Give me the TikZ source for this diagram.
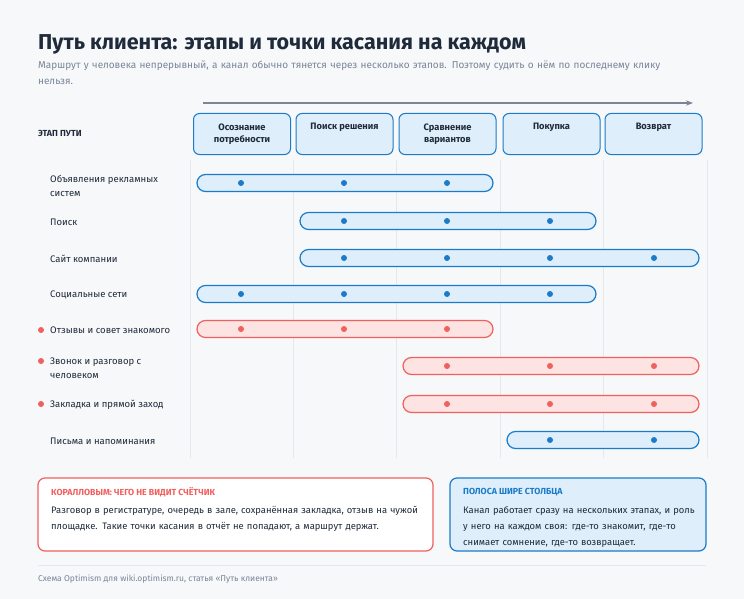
\documentclass[tikz,border=0pt]{standalone}
\usepackage{fontspec}
\setmainfont{Fira Sans}
\usepackage{xcolor}
\usetikzlibrary{arrows.meta,positioning,shapes.misc,calc}
\definecolor{bgc}{HTML}{F6F8FA}
\definecolor{ink}{HTML}{1F2A3A}
\definecolor{greyt}{HTML}{7A8596}
\definecolor{blue1}{HTML}{1B7BC8}
\definecolor{blue2}{HTML}{DEEEFB}
\definecolor{coral1}{HTML}{F0605D}
\definecolor{coral2}{HTML}{FDE3E2}
\definecolor{gridc}{HTML}{E4E8ED}
\tikzset{
  stage/.style = {draw=blue1, fill=blue2, rounded corners=6pt, line width=1pt, minimum width=97pt, minimum height=41pt, align=center, font=\fontsize{9.3}{12.5}\selectfont\bfseries, text=ink},
  bar/.style = {rounded rectangle, draw=blue1, fill=blue2, line width=1.2pt, minimum height=17pt, inner sep=0pt},
  rbar/.style = {bar, draw=coral1, fill=coral2},
  dot/.style = {circle, fill=blue1, inner sep=0pt, minimum size=6pt},
  rdot/.style = {dot, fill=coral1},
  lab/.style = {anchor=west, inner sep=0pt, align=left, font=\fontsize{9.5}{14}\selectfont, text=ink}
}
\begin{document}
\begin{tikzpicture}[x=1pt, y=-1pt]
\fill[bgc] (0,0) rectangle (744,599);
\useasboundingbox (0,0) rectangle (744,599);
\node[anchor=west, inner sep=0pt, font=\fontsize{21.5}{24}\selectfont\bfseries, text=ink] (title) at (38,44) {Путь клиента: этапы и точки касания на каждом};
\node[anchor=north west, inner sep=0pt, align=left, text width=660pt, font=\fontsize{10}{16}\selectfont, text=greyt] (sub) at (38,61) {Маршрут у человека непрерывный, а канал обычно тянется через несколько этапов. Поэтому судить о нём по последнему клику нельзя.};
% stage axis
\coordinate (ax0) at (203,103);
\coordinate (ax1) at (693,103);
\draw[greyt, line width=1.2pt, -{Stealth[length=7pt]}] (ax0) -- (ax1);
\node[anchor=west, inner sep=0pt, font=\fontsize{8.8}{10}\selectfont\bfseries, text=ink] (head) at (38,133) {ЭТАП ПУТИ};
\node[stage] (s1) at (242,134) {Осознание\\потребности};
\node[stage] (s2) at (344.5,134) {Поиск решения\\\strut};
\node[stage] (s3) at (447.5,134) {Сравнение\\вариантов};
\node[stage] (s4) at (551.5,134) {Покупка\\\strut};
\node[stage] (s5) at (653.5,134) {Возврат\\\strut};
% column guides
\foreach \gx in {190,293,396,500,603,707}
  \draw[gridc, line width=0.8pt] (\gx,160) -- (\gx,458);
% channels
\node[lab] (l1) at (50,186) {Объявления рекламных\\систем};
\node[lab] (l2) at (50,222) {Поиск};
\node[lab] (l3) at (50,259) {Сайт компании};
\node[lab] (l4) at (50,295) {Социальные сети};
\node[lab] (l5) at (50,330) {Отзывы и совет знакомого};
\node[lab] (l6) at (50,368) {Звонок и разговор с\\человеком};
\node[lab] (l7) at (50,405) {Закладка и прямой заход};
\node[lab] (l8) at (50,441) {Письма и напоминания};
\node[rdot] (m5) at (41,330) {};
\node[rdot] (m6) at (41,361) {};
\node[rdot] (m7) at (41,404) {};
% bars
\node[bar, minimum width=296pt] (b1) at (345,183) {};
\node[bar, minimum width=296pt] (b2) at (448,221) {};
\node[bar, minimum width=399pt] (b3) at (499.5,258) {};
\node[bar, minimum width=399pt] (b4) at (396.5,294) {};
\node[rbar, minimum width=296pt] (b5) at (345,329) {};
\node[rbar, minimum width=296pt] (b6) at (551,366) {};
\node[rbar, minimum width=296pt] (b7) at (551,404) {};
\node[bar, minimum width=192pt] (b8) at (603,440) {};
\foreach \px in {241,344,447} \node[dot] at (\px,183) {};
\foreach \px in {344,447,550} \node[dot] at (\px,221) {};
\foreach \px in {344,447,550,654} \node[dot] at (\px,258) {};
\foreach \px in {241,344,447,550} \node[dot] at (\px,294) {};
\foreach \px in {241,344,447} \node[rdot] at (\px,329) {};
\foreach \px in {447,550,654} \node[rdot] at (\px,366) {};
\foreach \px in {447,550,654} \node[rdot] at (\px,404) {};
\foreach \px in {550,654} \node[dot] at (\px,440) {};
% notes
\draw[coral1, fill=white, line width=1.2pt, rounded corners=7pt] (38,478) rectangle (433,551);
\node[anchor=west, inner sep=0pt, font=\fontsize{8.8}{10}\selectfont\bfseries, text=coral1] (n1h) at (51,492) {КОРАЛЛОВЫМ: ЧЕГО НЕ ВИДИТ СЧЁТЧИК};
\node[anchor=north west, inner sep=0pt, align=left, text width=375pt, font=\fontsize{9.4}{16}\selectfont, text=ink] (n1t) at (51,506) {Разговор в регистратуре, очередь в зале, сохранённая закладка, отзыв на чужой площадке. Такие точки касания в отчёт не попадают, а маршрут держат.};
\draw[blue1, fill=blue2, line width=1.2pt, rounded corners=7pt] (450,478) rectangle (706,551);
\node[anchor=west, inner sep=0pt, font=\fontsize{8.8}{10}\selectfont\bfseries, text=blue1] (n2h) at (463,492) {ПОЛОСА ШИРЕ СТОЛБЦА};
\node[anchor=north west, inner sep=0pt, align=left, text width=236pt, font=\fontsize{9.4}{16}\selectfont, text=ink] (n2t) at (463,506) {Канал работает сразу на нескольких этапах, и роль у него на каждом своя: где-то знакомит, где-то снимает сомнение, где-то возвращает.};
\draw[gridc, line width=0.8pt] (38,565) -- (706,565);
\node[anchor=west, inner sep=0pt, font=\fontsize{8.5}{10}\selectfont, text=greyt] (foot) at (38,579) {Схема Optimism для wiki.optimism.ru, статья «Путь клиента»};
\end{tikzpicture}
\end{document}
